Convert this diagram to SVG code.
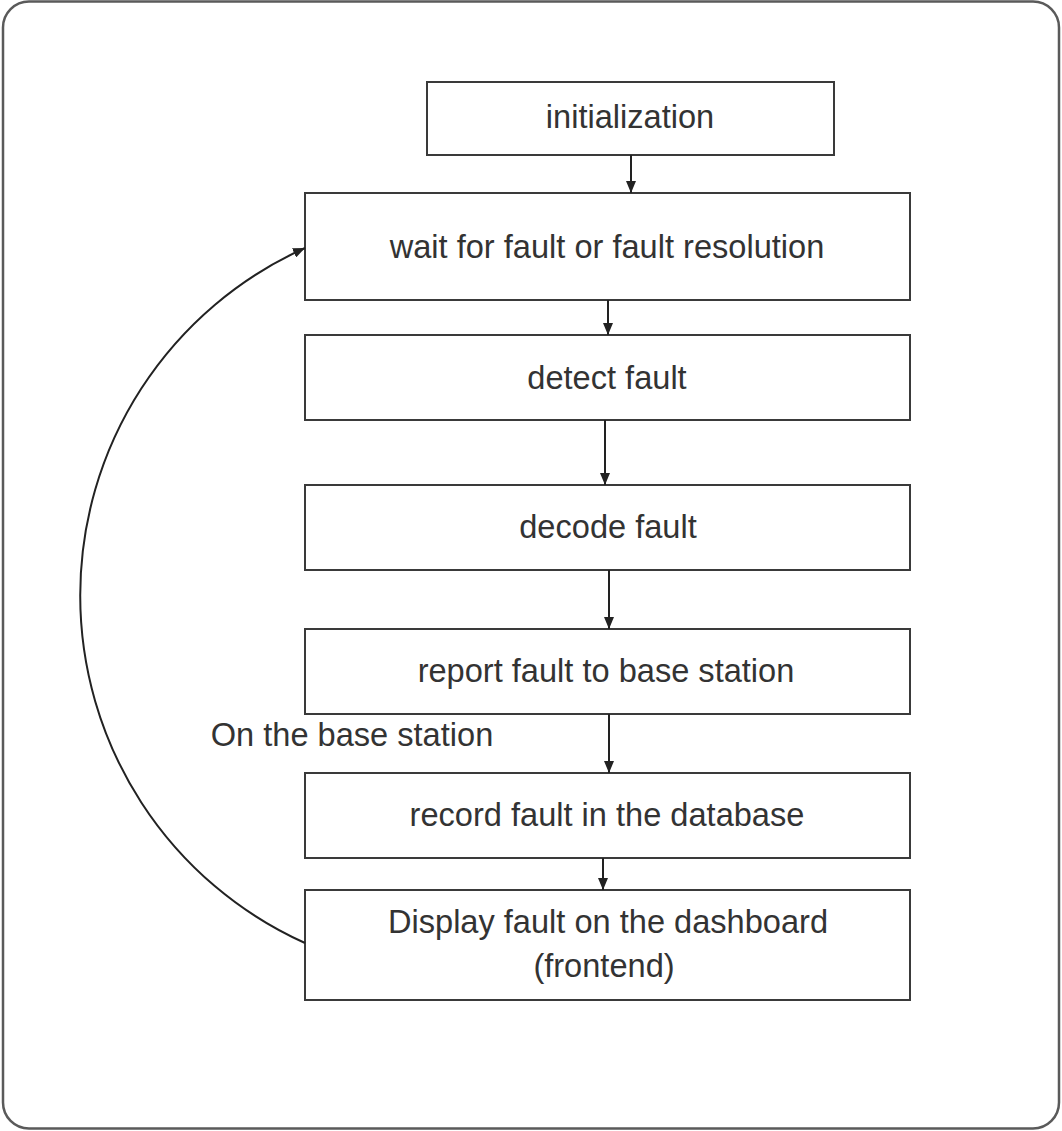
<svg xmlns="http://www.w3.org/2000/svg" width="1062" height="1131" viewBox="0 0 1062 1131">
<style>
.box{fill:#fff;stroke:#3a3a3a;stroke-width:2}
.lbl{font-family:"Liberation Sans",Arial,sans-serif;font-size:32.6px;fill:#333;text-anchor:middle}
.edge{fill:none;stroke:#222;stroke-width:2}
</style>
<defs>
<marker id="ah" viewBox="0 0 12 10" refX="12" refY="5" markerWidth="12" markerHeight="10" markerUnits="userSpaceOnUse" orient="auto">
<path d="M0,0 L12,5 L0,10 Z" fill="#222"/>
</marker>
</defs>
<rect x="3" y="1.5" width="1056" height="1127" rx="26" ry="26" fill="#fff" stroke="#5a5a5a" stroke-width="2.5"/>
<g id="n-init"><rect class="box" x="427" y="82" width="407" height="73"/><text class="lbl" x="630" y="128">initialization</text></g>
<g id="n-wait"><rect class="box" x="305" y="193" width="605" height="107"/><text class="lbl" x="607" y="258">wait for fault or fault resolution</text></g>
<g id="n-detect"><rect class="box" x="305" y="335" width="605" height="85"/><text class="lbl" x="607" y="389">detect fault</text></g>
<g id="n-decode"><rect class="box" x="305" y="485" width="605" height="85"/><text class="lbl" x="608" y="538">decode fault</text></g>
<g id="n-report"><rect class="box" x="305" y="629" width="605" height="85"/><text class="lbl" x="606" y="682">report fault to base station</text></g>
<g id="n-label"><text class="lbl" x="352" y="746">On the base station</text></g>
<g id="n-record"><rect class="box" x="305" y="773" width="605" height="85"/><text class="lbl" x="607" y="826">record fault in the database</text></g>
<g id="n-display"><rect class="box" x="305" y="890" width="605" height="110"/><text class="lbl" x="608" y="933">Display fault on the dashboard</text><text class="lbl" x="604" y="977">(frontend)</text></g>
<g id="connectors">
<line class="edge" x1="631" y1="155" x2="631" y2="193" marker-end="url(#ah)"/>
<line class="edge" x1="608" y1="300" x2="608" y2="335" marker-end="url(#ah)"/>
<line class="edge" x1="605" y1="420" x2="605" y2="485" marker-end="url(#ah)"/>
<line class="edge" x1="609" y1="570" x2="609" y2="629" marker-end="url(#ah)"/>
<line class="edge" x1="609" y1="714" x2="609" y2="773" marker-end="url(#ah)"/>
<line class="edge" x1="603" y1="858" x2="603" y2="890" marker-end="url(#ah)"/>
<path class="edge" d="M305,943 A381,381 0 0 1 305,248" stroke-width="1.5" marker-end="url(#ah)"/>
</g>
</svg>
